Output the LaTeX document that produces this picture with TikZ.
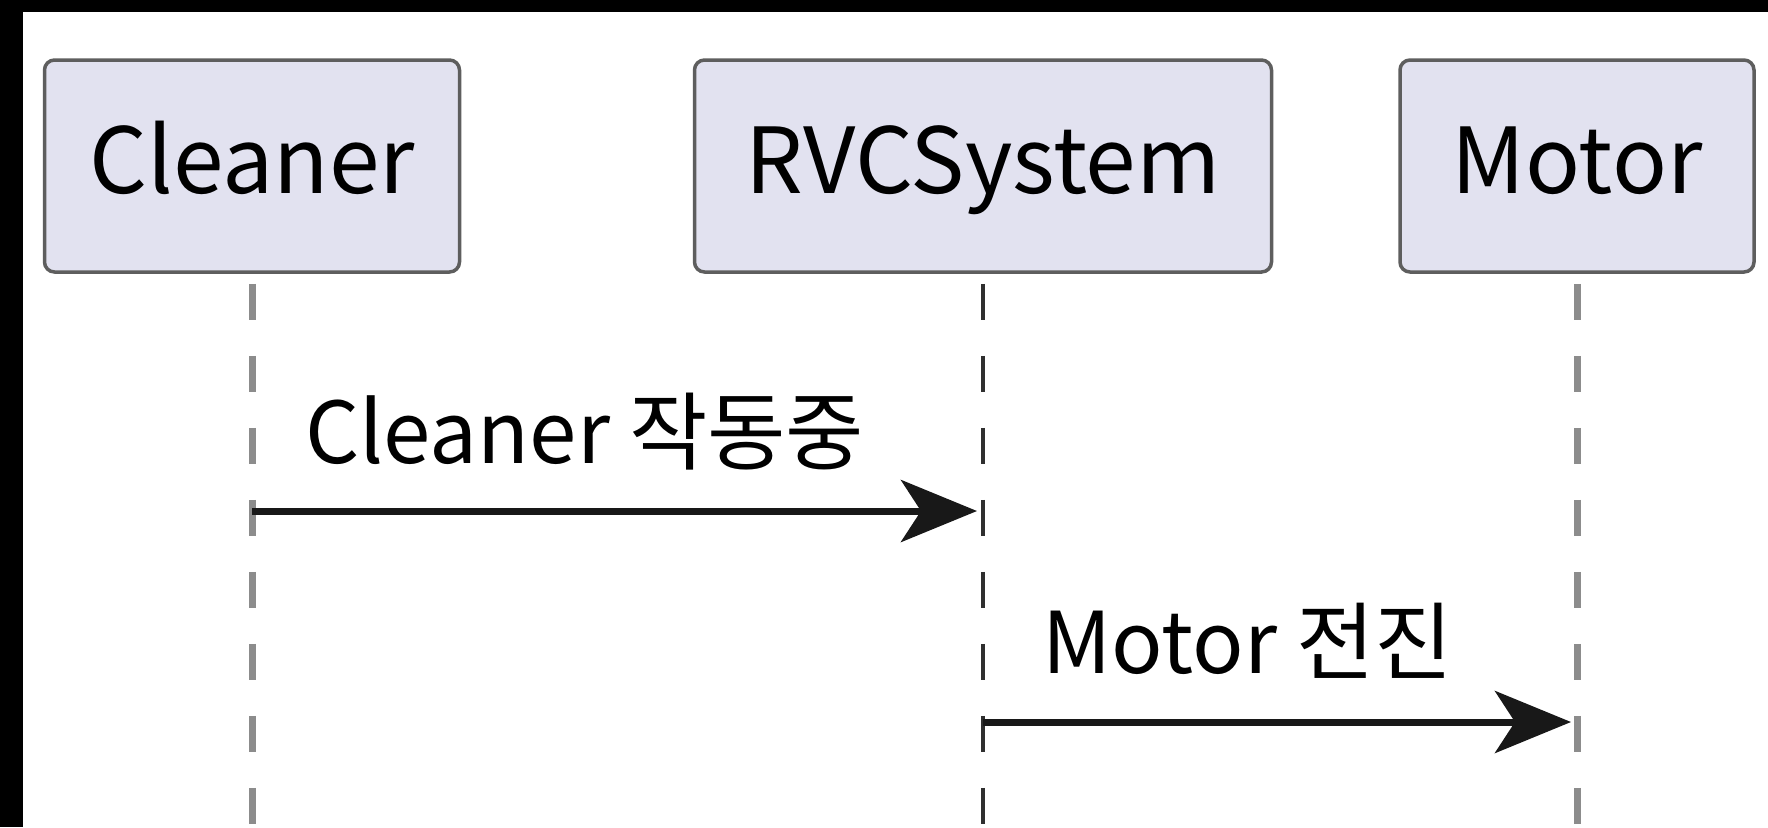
\documentclass[tikz,border=0pt]{standalone}
\usepackage{fontspec}
\setmainfont{Noto Sans CJK KR}
\usetikzlibrary{arrows.meta}
\definecolor{boxfill}{HTML}{E2E2F0}
\definecolor{boxline}{HTML}{5E5E5E}
\definecolor{lifegray}{HTML}{8C8C8C}
\definecolor{ink}{HTML}{181818}
\begin{document}
\begin{tikzpicture}[x=0.5pt, y=-0.5pt,
  part/.style={draw=boxline, line width=1.75pt, fill=boxfill, rounded corners=5pt, minimum height=106pt, inner sep=0pt, text height=37pt, text depth=10pt, font=\fontsize{45.5}{46}\selectfont},
  life/.style={draw=lifegray, line width=3.5pt, dash pattern=on 18pt off 18pt, shorten <=5.9pt},
  msg/.style={draw=ink, line width=3.5pt, -{Stealth[length=38pt, width=31pt, inset=10pt]}},
  lbl/.style={anchor=base west, inner sep=0pt, font=\fontsize{42.6}{43}\selectfont}]
\useasboundingbox (0,0) rectangle (1768,827);
\fill[black] (0,0) rectangle (1768,827);
\fill[white] (23,12) rectangle (1768,827);

\coordinate (lid0) at (252,830);
\coordinate (lid1) at (983,830);
\coordinate (lid2) at (1577,830);
\draw[life] (252,272) -- (lid0);
\draw[life, draw=ink!90, line width=2.2pt] (983,272) -- (lid1);
\draw[life] (1577,272) -- (lid2);

\node[part, minimum width=207.5pt] (pid0) at (252,166) {Cleaner};
\node[part, minimum width=288.5pt] (pid1) at (983,166) {RVCSystem};
\node[part, minimum width=177pt] (pid2) at (1577,166) {Motor};

\coordinate (mid0s) at (252,511);
\coordinate (mid0e) at (977,511);
\coordinate (mid1s) at (983,722);
\coordinate (mid1e) at (1571,722);
\draw[msg] (mid0s) -- (mid0e);
\draw[msg] (mid1s) -- (mid1e);
\node[lbl] (lbl0) at (305,463) {Cleaner 작동중};
\node[lbl] (lbl1) at (1042,673) {Motor 전진};

\end{tikzpicture}
\end{document}
